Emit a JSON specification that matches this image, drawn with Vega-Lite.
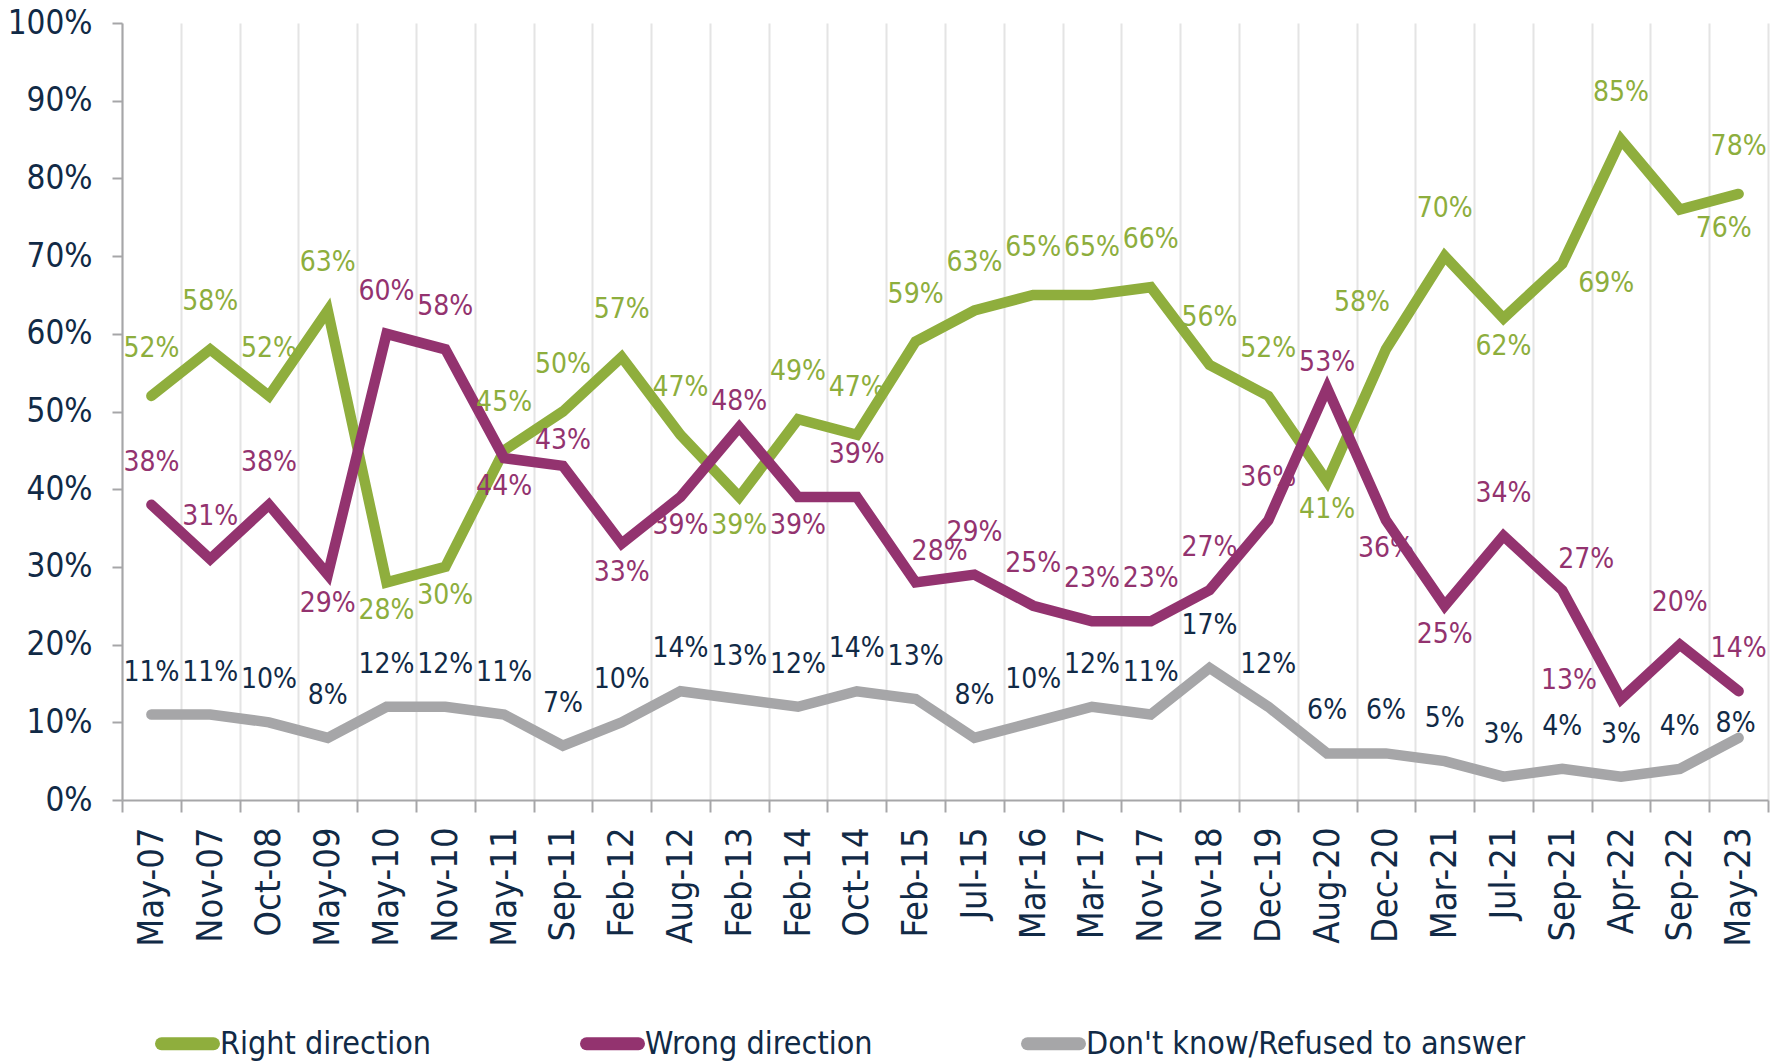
{
  "$schema": "https://vega.github.io/schema/vega-lite/v6.json",
  "width": 1646,
  "height": 777,
  "autosize": "none",
  "padding": {"left": 122, "top": 23, "right": 14, "bottom": 262},
  "background": "white",
  "config": {"view": {"stroke": null}, "font": "'DejaVu Sans Condensed', 'Liberation Sans Narrow', Lato, sans-serif"},
  "data": {
    "values": [
      {"date": "May-07", "right": 52, "wrong": 38, "dk": 11},
      {"date": "Nov-07", "right": 58, "wrong": 31, "dk": 11},
      {"date": "Oct-08", "right": 52, "wrong": 38, "dk": 10},
      {"date": "May-09", "right": 63, "wrong": 29, "dk": 8},
      {"date": "May-10", "right": 28, "wrong": 60, "dk": 12},
      {"date": "Nov-10", "right": 30, "wrong": 58, "dk": 12},
      {"date": "May-11", "right": 45, "wrong": 44, "dk": 11},
      {"date": "Sep-11", "right": 50, "wrong": 43, "dk": 7},
      {"date": "Feb-12", "right": 57, "wrong": 33, "dk": 10},
      {"date": "Aug-12", "right": 47, "wrong": 39, "dk": 14},
      {"date": "Feb-13", "right": 39, "wrong": 48, "dk": 13},
      {"date": "Feb-14", "right": 49, "wrong": 39, "dk": 12},
      {"date": "Oct-14", "right": 47, "wrong": 39, "dk": 14},
      {"date": "Feb-15", "right": 59, "wrong": 28, "dk": 13},
      {"date": "Jul-15", "right": 63, "wrong": 29, "dk": 8},
      {"date": "Mar-16", "right": 65, "wrong": 25, "dk": 10},
      {"date": "Mar-17", "right": 65, "wrong": 23, "dk": 12},
      {"date": "Nov-17", "right": 66, "wrong": 23, "dk": 11},
      {"date": "Nov-18", "right": 56, "wrong": 27, "dk": 17},
      {"date": "Dec-19", "right": 52, "wrong": 36, "dk": 12},
      {"date": "Aug-20", "right": 41, "wrong": 53, "dk": 6},
      {"date": "Dec-20", "right": 58, "wrong": 36, "dk": 6},
      {"date": "Mar-21", "right": 70, "wrong": 25, "dk": 5},
      {"date": "Jul-21", "right": 62, "wrong": 34, "dk": 3},
      {"date": "Sep-21", "right": 69, "wrong": 27, "dk": 4},
      {"date": "Apr-22", "right": 85, "wrong": 13, "dk": 3},
      {"date": "Sep-22", "right": 76, "wrong": 20, "dk": 4},
      {"date": "May-23", "right": 78, "wrong": 14, "dk": 8}
    ]
  },
  "transform": [
    {"fold": ["right", "wrong", "dk"], "as": ["key", "value"]},
    {"calculate": "datum.key === 'right' ? 'Right direction' : datum.key === 'wrong' ? 'Wrong direction' : 'Don\\'t know/Refused to answer'", "as": "series"},
    {"calculate": "datum.value + '%'", "as": "label"},
    {"calculate": "datum.key + '|' + datum.date", "as": "id"},
    {"calculate": "indexof(['right|May-10','right|Nov-10','right|Feb-13','right|Aug-20','right|Jul-21','wrong|May-09','wrong|May-11','wrong|Feb-12','wrong|Aug-12','wrong|Feb-14','wrong|Dec-20','wrong|Mar-21'], datum.id) >= 0 ? 'below' : indexof(['right|Sep-21','right|Sep-22'], datum.id) >= 0 ? 'belowRight' : indexof(['wrong|Sep-21','wrong|Feb-15'], datum.id) >= 0 ? 'aboveRight' : indexof(['wrong|Apr-22'], datum.id) >= 0 ? 'left' : indexof(['right|Dec-20'], datum.id) >= 0 ? 'aboveLeft' : indexof(['wrong|Feb-13','wrong|Sep-11','wrong|Aug-20'], datum.id) >= 0 ? 'near' : indexof(['dk|May-23'], datum.id) >= 0 ? 'veryNear' : datum.key === 'right' ? 'aboveGreen' : 'above'", "as": "pos"}
  ],
  "encoding": {
    "x": {
      "field": "date",
      "type": "nominal",
      "bandPosition": 0.5,
      "sort": ["May-07","Nov-07","Oct-08","May-09","May-10","Nov-10","May-11","Sep-11","Feb-12","Aug-12","Feb-13","Feb-14","Oct-14","Feb-15","Jul-15","Mar-16","Mar-17","Nov-17","Nov-18","Dec-19","Aug-20","Dec-20","Mar-21","Jul-21","Sep-21","Apr-22","Sep-22","May-23"],
      "scale": {"type": "band", "paddingInner": 0, "paddingOuter": 0},
      "axis": {
        "title": null,
        "labelAngle": -90,
        "labelFontSize": 36,
        "labelColor": "#112A46",
        "labelPadding": 15,
        "tickSize": 12,
        "tickColor": "#A6A6A8",
        "tickWidth": 2,
        "domainColor": "#A6A6A8",
        "domainWidth": 2,
        "grid": true,
        "gridColor": "#E4E4E4",
        "gridWidth": 2,
        "tickBand": "extent"
      }
    },
    "y": {
      "field": "value",
      "type": "quantitative",
      "scale": {"domain": [0, 100], "nice": false},
      "axis": {
        "title": null,
        "values": [0, 10, 20, 30, 40, 50, 60, 70, 80, 90, 100],
        "labelExpr": "datum.value + '%'",
        "labelFontSize": 33,
        "labelColor": "#112A46",
        "labelPadding": 20,
        "tickSize": 10,
        "tickColor": "#A6A6A8",
        "tickWidth": 2,
        "domainColor": "#A6A6A8",
        "domainWidth": 2,
        "grid": false
      }
    }
  },
  "layer": [
    {
      "mark": {"type": "line", "strokeWidth": 10.5, "strokeCap": "round", "strokeJoin": "miter"},
      "encoding": {
        "color": {
          "field": "series",
          "type": "nominal",
          "scale": {"domain": ["Right direction", "Wrong direction", "Don't know/Refused to answer"], "range": ["#8FAE3D", "#93336F", "#A6A6A8"]},
          "legend": {
            "orient": "none",
            "legendX": 33,
            "legendY": 988,
            "direction": "horizontal",
            "title": null,
            "symbolType": "stroke",
            "symbolSize": 2704,
            "symbolStrokeWidth": 13,
            "labelFontSize": 32,
            "labelColor": "#112A46",
            "labelLimit": 700,
            "columnPadding": 128,
            "labelOffset": 0,
            "encode": {"symbols": {"update": {"strokeCap": {"value": "round"}}}}
          }
        }
      }
    },
    {
      "transform": [{"filter": "datum.pos === 'above'"}],
      "mark": {"type": "text", "fontSize": 28, "baseline": "middle", "align": "center", "dy": -42},
      "encoding": {"text": {"field": "label"}, "fill": {"field": "series", "type": "nominal", "scale": {"domain": ["Right direction", "Wrong direction", "Don't know/Refused to answer"], "range": ["#8DAE3D", "#93336F", "#112A46"]}, "legend": null}}
    },
    {
      "transform": [{"filter": "datum.pos === 'aboveGreen'"}],
      "mark": {"type": "text", "fontSize": 28, "baseline": "middle", "align": "center", "dy": -47},
      "encoding": {"text": {"field": "label"}, "fill": {"field": "series", "type": "nominal", "legend": null}}
    },
    {
      "transform": [{"filter": "datum.pos === 'near'"}],
      "mark": {"type": "text", "fontSize": 28, "baseline": "middle", "align": "center", "dy": -25},
      "encoding": {"text": {"field": "label"}, "fill": {"field": "series", "type": "nominal", "legend": null}}
    },
    {
      "transform": [{"filter": "datum.pos === 'veryNear'"}],
      "mark": {"type": "text", "fontSize": 28, "baseline": "middle", "align": "center", "dx": -3, "dy": -14},
      "encoding": {"text": {"field": "label"}, "fill": {"field": "series", "type": "nominal", "legend": null}}
    },
    {
      "transform": [{"filter": "datum.pos === 'below'"}],
      "mark": {"type": "text", "fontSize": 28, "baseline": "middle", "align": "center", "dy": 29},
      "encoding": {"text": {"field": "label"}, "fill": {"field": "series", "type": "nominal", "legend": null}}
    },
    {
      "transform": [{"filter": "datum.pos === 'belowRight'"}],
      "mark": {"type": "text", "fontSize": 28, "baseline": "middle", "align": "center", "dx": 44, "dy": 20},
      "encoding": {"text": {"field": "label"}, "fill": {"field": "series", "type": "nominal", "legend": null}}
    },
    {
      "transform": [{"filter": "datum.pos === 'aboveRight'"}],
      "mark": {"type": "text", "fontSize": 28, "baseline": "middle", "align": "center", "dx": 24, "dy": -30},
      "encoding": {"text": {"field": "label"}, "fill": {"field": "series", "type": "nominal", "legend": null}}
    },
    {
      "transform": [{"filter": "datum.pos === 'left'"}],
      "mark": {"type": "text", "fontSize": 28, "baseline": "middle", "align": "center", "dx": -52, "dy": -18},
      "encoding": {"text": {"field": "label"}, "fill": {"field": "series", "type": "nominal", "legend": null}}
    },
    {
      "transform": [{"filter": "datum.pos === 'aboveLeft'"}],
      "mark": {"type": "text", "fontSize": 28, "baseline": "middle", "align": "center", "dx": -24, "dy": -46},
      "encoding": {"text": {"field": "label"}, "fill": {"field": "series", "type": "nominal", "legend": null}}
    }
  ]
}
